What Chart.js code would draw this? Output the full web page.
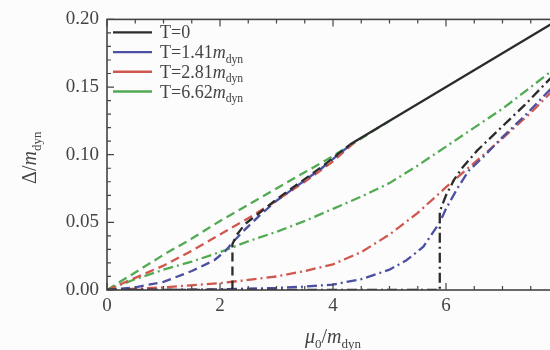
<!DOCTYPE html>
<html>
<head>
<meta charset="utf-8">
<script src="https://cdn.jsdelivr.net/npm/chart.js@4/dist/chart.umd.min.js"></script>
<style>
html, body { margin: 0; padding: 0; background: #fcfcfc; overflow: hidden; }
#wrap { width: 572px; height: 350px; position: relative; }
</style>
</head>
<body>
<div id="wrap"><canvas id="chart"></canvas></div>
<script>
// dashed family
const muDashBlack = [0, 2.22, 2.22, 2.3, 2.45, 2.7, 3.0, 3.4, 3.8, 4.3, 8];
const gapDashBlack = [0, 0, 0.034, 0.041, 0.049, 0.057, 0.067, 0.079, 0.091, 0.1075, 0.2];
const muDashBlue = [0, 0.5, 1, 1.5, 1.9, 2.1, 2.22, 2.4, 2.7, 3.0, 3.4, 3.8, 4.3];
const gapDashBlue = [0, 0.002, 0.006, 0.014, 0.022, 0.029, 0.035, 0.043, 0.055, 0.066, 0.078, 0.09, 0.107];
const muDashRed = [0, 0.5, 1, 1.5, 2, 2.5, 3, 3.5, 4, 4.4];
const gapDashRed = [0, 0.009, 0.018, 0.029, 0.041, 0.053, 0.066, 0.08, 0.095, 0.11];
const muDashGreen = [0, 0.5, 1, 1.5, 2, 2.5, 3, 3.5, 4, 4.5, 5];
const gapDashGreen = [0, 0.013, 0.026, 0.038, 0.051, 0.063, 0.075, 0.087, 0.099, 0.112, 0.125];

// dash-dot family
const muDotBlack = [0, 5.89, 5.89, 6.0, 6.15, 6.3, 6.55, 6.8, 7.1, 7.4, 7.7, 8];
const gapDotBlack = [0, 0, 0.058, 0.07, 0.082, 0.091, 0.103, 0.113, 0.125, 0.137, 0.15, 0.163];
const muDotBlue = [0, 1, 2, 3, 3.5, 4, 4.5, 5, 5.3, 5.6, 5.89, 6.0, 6.2, 6.4, 6.7, 7, 7.4, 7.7, 8];
const gapDotBlue = [0, 0, 0.0005, 0.0015, 0.0025, 0.004, 0.008, 0.015, 0.022, 0.032, 0.05, 0.06, 0.075, 0.088, 0.1, 0.113, 0.129, 0.142, 0.155];
const muDotRed = [0, 1, 2, 3, 3.5, 4, 4.5, 5, 5.5, 6, 6.5, 7, 7.5, 8];
const gapDotRed = [0, 0.002, 0.005, 0.01, 0.014, 0.019, 0.028, 0.041, 0.057, 0.076, 0.094, 0.112, 0.131, 0.152];
const muDotGreen = [0, 0.5, 1, 1.5, 2, 2.5, 3, 3.5, 4, 4.5, 5, 5.5, 6, 6.5, 7, 7.5, 8];
const gapDotGreen = [0, 0.008, 0.015, 0.021, 0.028, 0.036, 0.043, 0.051, 0.06, 0.069, 0.079, 0.092, 0.106, 0.12, 0.134, 0.15, 0.166];

const legendLabels = ['T=0', 'T=1.41', 'T=2.81', 'T=6.62'];
const legendUnit = [false, true, true, true];

const BLACK = '#2b2b2b', BLUE = '#4c50a2', RED = '#d0574e', GREEN = '#52aa52';
const legendColors = [BLACK, BLUE, RED, GREEN];
const SERIF = "'Liberation Serif', 'DejaVu Serif', serif";
const DASH = [9, 5];
const DASHDOT = [10, 4, 2, 4];

function pts(xs, ys) {
    return xs.map((x, i) => ({ x: x, y: ys[i] }));
}

function ds(xs, ys, color, dash, extra) {
    return Object.assign({
        data: pts(xs, ys),
        borderColor: color,
        borderWidth: 2.3,
        borderDash: dash,
        pointRadius: 0,
        tension: 0,
        showLine: true,
        fill: false
    }, extra || {});
}

function drawRich(ctx, parts, x, y, size, align) {
    const widths = parts.map(p => {
        ctx.font = (p.it ? 'italic ' : '') + (p.sub ? size * 0.65 : size) + 'px ' + SERIF;
        return ctx.measureText(p.t).width;
    });
    const total = widths.reduce((a, b) => a + b, 0);
    let cx = align === 'center' ? x - total / 2 : x;
    ctx.textBaseline = 'alphabetic';
    ctx.textAlign = 'left';
    parts.forEach((p, i) => {
        ctx.font = (p.it ? 'italic ' : '') + (p.sub ? size * 0.65 : size) + 'px ' + SERIF;
        ctx.fillText(p.t, cx, y + (p.sub ? size * 0.25 : 0));
        cx += widths[i];
    });
}

const framePlugin = {
    id: 'frame',
    afterDraw(chart) {
        const ctx = chart.ctx;
        const a = chart.chartArea;
        const xs = chart.scales.x, ys = chart.scales.y;
        ctx.save();
        ctx.strokeStyle = '#444';
        ctx.lineWidth = 1.6;
        ctx.strokeRect(a.left, a.top, a.right - a.left, a.bottom - a.top);
        ctx.lineWidth = 1.2;
        for (let v = 0; v <= 8.001; v += 0.5) {
            const px = xs.getPixelForValue(v);
            const len = Math.abs(v % 2) < 0.01 ? 7 : 4;
            ctx.beginPath();
            ctx.moveTo(px, a.bottom); ctx.lineTo(px, a.bottom - len);
            ctx.moveTo(px, a.top); ctx.lineTo(px, a.top + len);
            ctx.stroke();
        }
        for (let i = 0; i <= 20; i++) {
            const py = ys.getPixelForValue(i * 0.01);
            const len = i % 5 === 0 ? 7 : 4;
            ctx.beginPath();
            ctx.moveTo(a.left, py); ctx.lineTo(a.left + len, py);
            ctx.moveTo(a.right, py); ctx.lineTo(a.right - len, py);
            ctx.stroke();
        }

        // legend
        ctx.lineWidth = 2.4;
        legendLabels.forEach((lab, i) => {
            const y = a.top + 13 + i * 19.7;
            ctx.strokeStyle = legendColors[i];
            ctx.beginPath();
            ctx.moveTo(a.left + 6, y); ctx.lineTo(a.left + 45, y);
            ctx.stroke();
            ctx.fillStyle = '#444';
            const parts = [{ t: lab }];
            if (legendUnit[i]) parts.push({ t: 'm', it: true }, { t: 'dyn', sub: true });
            drawRich(ctx, parts, a.left + 53, y + 6, 18, 'left');
        });

        // axis titles
        ctx.fillStyle = '#444';
        drawRich(ctx, [{ t: 'μ', it: true }, { t: '0', sub: true }, { t: '/' }, { t: 'm', it: true }, { t: 'dyn', sub: true }],
            xs.getPixelForValue(4), 343, 20, 'center');
        ctx.save();
        ctx.translate(36, (a.top + a.bottom) / 2 + 3);
        ctx.rotate(-Math.PI / 2);
        drawRich(ctx, [{ t: 'Δ' }, { t: '/' }, { t: 'm', it: true }, { t: 'dyn', sub: true }], 0, 0, 20, 'center');
        ctx.restore();
        ctx.restore();
    }
};

new Chart(document.getElementById('chart'), {
    type: 'scatter',
    data: {
        datasets: [
            ds(muDashBlack, gapDashBlack, BLACK, DASH, {
                segment: { borderDash: c => c.p0.parsed.x >= 4.29 ? [] : DASH }
            }),
            ds(muDotBlack, gapDotBlack, BLACK, DASHDOT),
            ds(muDashBlue, gapDashBlue, BLUE, DASH),
            ds(muDotBlue, gapDotBlue, BLUE, DASHDOT),
            ds(muDashRed, gapDashRed, RED, DASH),
            ds(muDotRed, gapDotRed, RED, DASHDOT),
            ds(muDashGreen, gapDashGreen, GREEN, DASH),
            ds(muDotGreen, gapDotGreen, GREEN, DASHDOT)
        ]
    },
    options: {
        responsive: true,
        maintainAspectRatio: false,
        animation: false,
        layout: { padding: { top: 15, right: 13, left: 0, bottom: 0 } },
        plugins: { legend: { display: false }, tooltip: { enabled: false } },
        scales: {
            x: {
                type: 'linear', min: 0, max: 8,
                grid: { display: false, drawTicks: false },
                border: { display: false },
                ticks: { stepSize: 2, padding: 5, color: '#444', font: { family: SERIF, size: 19 } },
                afterFit: s => { s.height = 60; }
            },
            y: {
                min: 0, max: 0.2,
                grid: { display: false, drawTicks: false },
                border: { display: false },
                ticks: {
                    stepSize: 0.05, padding: 8, color: '#444', font: { family: SERIF, size: 19 },
                    callback: v => v.toFixed(2)
                },
                afterFit: s => { s.width = 107; }
            }
        }
    },
    plugins: [framePlugin]
});
</script>
</body>
</html>
